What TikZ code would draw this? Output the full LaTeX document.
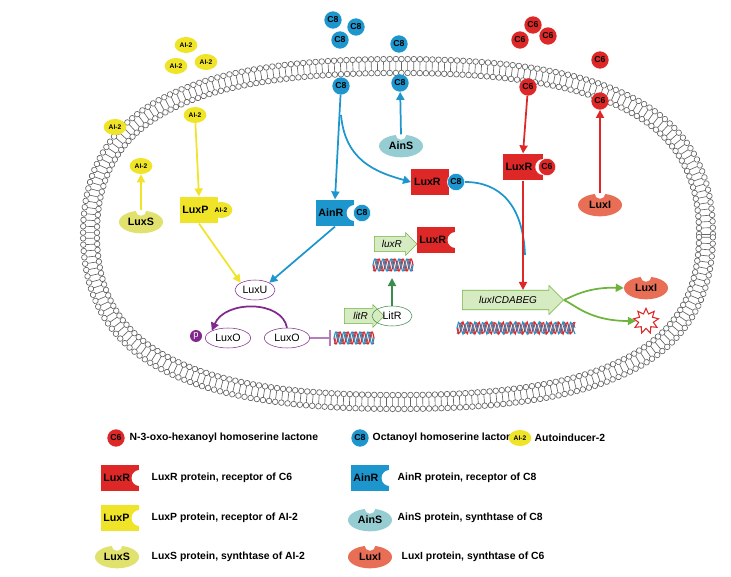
\documentclass[tikz,border=0pt]{standalone}
\usepackage{fontspec}
\setmainfont{Liberation Sans}
\usetikzlibrary{shapes.geometric,shapes.arrows,arrows.meta,decorations.markings}
\definecolor{rc}{RGB}{222,40,40}
\definecolor{bc}{RGB}{28,150,205}
\definecolor{yc}{RGB}{240,228,40}
\definecolor{ys}{RGB}{225,225,110}
\definecolor{ac}{RGB}{150,205,210}
\definecolor{ic}{RGB}{232,110,85}
\definecolor{gc}{RGB}{110,180,60}
\definecolor{gf}{RGB}{215,235,195}
\definecolor{pc}{RGB}{130,40,140}
\definecolor{dg}{RGB}{60,140,80}
\begin{document}
\begin{tikzpicture}[x=0.75pt,y=-0.75pt,
  lig/.style={circle,inner sep=0pt,minimum size=13pt,font=\bfseries\fontsize{6.5}{7}\selectfont},
  c6/.style={lig,fill=rc},
  c8/.style={lig,fill=bc},
  ai2/.style={ellipse,inner sep=0pt,minimum width=17pt,minimum height=12pt,fill=yc,font=\bfseries\fontsize{5}{6}\selectfont},
  rec/.style={rectangle,inner sep=1pt,minimum width=29pt,minimum height=20pt,align=left,font=\bfseries\fontsize{8}{9}\selectfont,text width=25pt},
  syn/.style={ellipse,inner sep=1pt,minimum width=33pt,minimum height=17pt,font=\bfseries\fontsize{8}{9}\selectfont},
  pr/.style={ellipse,draw=pc,inner sep=1pt,minimum width=30pt,minimum height=15pt,font=\fontsize{8}{9}\selectfont},
  gene/.style={single arrow,draw=gc,fill=gf,single arrow head extend=2pt,minimum height=26pt,minimum width=17pt,inner sep=1pt,font=\itshape\fontsize{7.5}{9}\selectfont},
  arr/.style={-{Triangle[length=6pt,width=6pt]},line width=1.3pt},
  leg/.style={anchor=west,font=\bfseries\fontsize{7.8}{10}\selectfont}]
\useasboundingbox (0,0) rectangle (731,577);
% membrane
\path[postaction={decorate,decoration={markings,mark=between positions 0 and 1 step 4.6pt with {
  \draw[gray!80!black,line width=0.5pt] (0,5.2pt) -- (0,-5.2pt);
  \draw[gray!80!black,fill=white,line width=0.5pt] (0,5.2pt) circle (2.1pt) (0,-5.2pt) circle (2.1pt);}}}]
  (706,234) .. controls (706,116) and (614,66) .. (398,66)
  .. controls (182,66) and (90,116) .. (90,234)
  .. controls (90,352) and (182,402) .. (398,402)
  .. controls (614,402) and (706,352) .. (706,234) -- cycle;
\newcommand\dna[3]{% x0,y0,length
  \draw[rc,line width=0.9pt] plot[domain=0:#3,samples=80] ({#1+\x},{#2+6*sin(\x*45)});
  \draw[bc,line width=0.9pt] plot[domain=0:#3,samples=80] ({#1+\x},{#2-6*sin(\x*45)});
  \draw[rc!60!bc,line width=0.6pt] plot[domain=0:#3,samples=80] ({#1+\x},{#2+6*sin(\x*45+90)});}
% ---- AI-2 ----
\node[ai2] (ao1) at (186,45) {AI-2};
\node[ai2] (ao2) at (176,66) {AI-2};
\node[ai2] (ao3) at (206,62) {AI-2};
\node[ai2] (ao4) at (115,127) {AI-2};
\node[ai2] (ai1) at (141,166) {AI-2};
\node[ai2] (ai2n) at (195,115) {AI-2};
\node[syn,fill=ys] (luxs) at (141,222) {LuxS};
\fill[white] (luxs.north) circle (4pt);
\node[rec,fill=yc] (luxp) at (199,210) {LuxP};
\node[ai2] (luxpai) at (221,210) {AI-2};
\draw[arr,yc] (luxs.north) -- (ai1);
\draw[arr,yc] (ai2n) -- (luxp.north);
% ---- C8 ----
\node[c8] (co1) at (333,20) {C8};
\node[c8] (co2) at (356,27) {C8};
\node[c8] (co3) at (340,40) {C8};
\node[c8] (co4) at (399,44) {C8};
\node[c8] (ci1) at (341,86) {C8};
\node[c8] (ci2) at (400,83) {C8};
\node[syn,fill=ac] (ains) at (401,146) {AinS};
\fill[white] (ains.north) circle (4pt);
\draw[arr,bc] (ains.north) -- (ci2);
\node[rec,fill=bc] (ainr) at (335,213) {AinR};
\fill[white] (ainr.east) circle (6pt);
\node[c8,draw=white] (ainrc) at (362,213) {C8};
\node[rec,fill=rc,minimum width=28pt,text width=24pt] (lxr8) at (430,182) {LuxR};
\node[c8,draw=white] (lxr8c) at (456,182) {C8};
\coordinate (br) at (341,115);
\draw[arr,bc] (ci1) -- (ainr.north);
\draw[arr,bc] (br) .. controls (345,160) and (375,172) .. (lxr8.west);
\draw[bc,line width=1.3pt] (lxr8c.east) .. controls (500,182) and (523,205) .. (525,255);
% ---- C6 ----
\node[c6] (do1) at (533,25) {C6};
\node[c6] (do2) at (520,40) {C6};
\node[c6] (do3) at (548,36) {C6};
\node[c6] (do4) at (600,60) {C6};
\node[c6] (di1) at (528,87) {C6};
\node[c6] (di2) at (600,101) {C6};
\node[rec,fill=rc,minimum width=30pt,text width=26pt] (lxr6) at (523,167) {LuxR};
\fill[white] (lxr6.east) circle (6pt);
\node[c6,draw=white] (lxr6c) at (547,167) {C6};
\node[syn,fill=ic] (luxi) at (600,205) {LuxI};
\fill[white] (luxi.north) circle (4pt);
\draw[arr,rc] (di1) -- (lxr6.north);
\draw[arr,rc] (luxi.north) -- (di2);
% ---- lux operon ----
\node[gene,minimum height=76pt,minimum width=22pt,anchor=west] (op) at (462,300) {luxICDABEG};
\draw[arr,rc] (lxr6.south) -- (op.north -| lxr6.south);
\dna{457}{328}{118}
\node[syn,fill=ic] (luxi2) at (646,288) {LuxI};
\fill[white] (luxi2.north) circle (4pt);
\node[star,star points=9,star point ratio=1.7,draw=rc,inner sep=0pt,minimum size=19pt,line width=0.8pt] (st) at (646,321) {};
\draw[arr,gc] (op.tip) .. controls (575,295) and (590,287) .. (luxi2.west);
\draw[arr,gc] (op.tip) .. controls (575,305) and (590,321) .. (st.west);
% ---- LuxU / LuxO ----
\node[pr] (luxu) at (255,290) {LuxU};
\node[pr,minimum width=34pt] (luxo1) at (228,338) {LuxO};
\node[circle,fill=pc,inner sep=0pt,minimum size=9pt,text=white,font=\fontsize{7}{7}\selectfont] (p) at (196,336) {p};
\node[pr,minimum width=34pt] (luxo2) at (287,338) {LuxO};
\draw[arr,yc] (luxp.south) -- (luxu.north west);
\draw[arr,bc] (ainr.south) -- (luxu.north east);
\draw[arr,pc] (luxo2.north) .. controls (282,300) and (225,300) .. (luxo1.north west);
\coordinate (bar) at (330,338);
\draw[pc!60,line width=1.2pt] (luxo2.east) -- (bar);
\draw[pc!60,line width=1.5pt] (330,330) -- (330,346);
\dna{334}{338}{40}
% ---- litR / luxR ----
\node[gene,minimum height=30pt,anchor=west] (litr) at (344,316) {litR};
\node[ellipse,draw=dg,inner sep=1pt,minimum width=30pt,minimum height=15pt,font=\fontsize{8}{9}\selectfont] (litp) at (392,316) {LitR};
\dna{373}{265}{40}
\coordinate (dtop) at (392,278);
\draw[arr,dg] (litp.north) -- (dtop);
\node[gene,minimum height=32pt,anchor=west] (luxrg) at (374,244) {luxR};
\node[rec,fill=rc,minimum width=29pt,text width=25pt] (lxr0) at (436,240) {LuxR};
\fill[white] (lxr0.east) circle (6pt);
% ---- legend ----
\node[c6] (l1) at (116,438) {C6};
\node[leg] at (125,438) {N-3-oxo-hexanoyl homoserine lactone};
\node[c8] (l2) at (360,438) {C8};
\node[leg] at (368,438) {Octanoyl homoserine lactone};
\node[ai2] (l3) at (520,438) {AI-2};
\node[leg] at (530,438) {Autoinducer-2};
\node[rec,fill=rc] (l4) at (120,478) {LuxR};
\fill[white] (l4.east) circle (6pt);
\node[leg] at (147,478) {LuxR protein, receptor of C6};
\node[rec,fill=bc] (l5) at (370,478) {AinR};
\fill[white] (l5.east) circle (6pt);
\node[leg] at (393,478) {AinR protein, receptor of C8};
\node[rec,fill=yc] (l6) at (120,518) {LuxP};
\fill[white] (l6.east) circle (6pt);
\node[leg] at (147,518) {LuxP protein, receptor of AI-2};
\node[syn,fill=ac] (l7) at (370,520) {AinS};
\fill[white] (l7.north) circle (4pt);
\node[leg] at (393,518) {AinS protein, synthtase of C8};
\node[syn,fill=ys] (l8) at (117,557) {LuxS};
\fill[white] (l8.north) circle (4pt);
\node[leg] at (147,557) {LuxS protein, synthtase of AI-2};
\node[syn,fill=ic] (l9) at (370,557) {LuxI};
\fill[white] (l9.north) circle (4pt);
\node[leg] at (397,557) {LuxI protein, synthtase of C6};
\end{tikzpicture}
\end{document}
